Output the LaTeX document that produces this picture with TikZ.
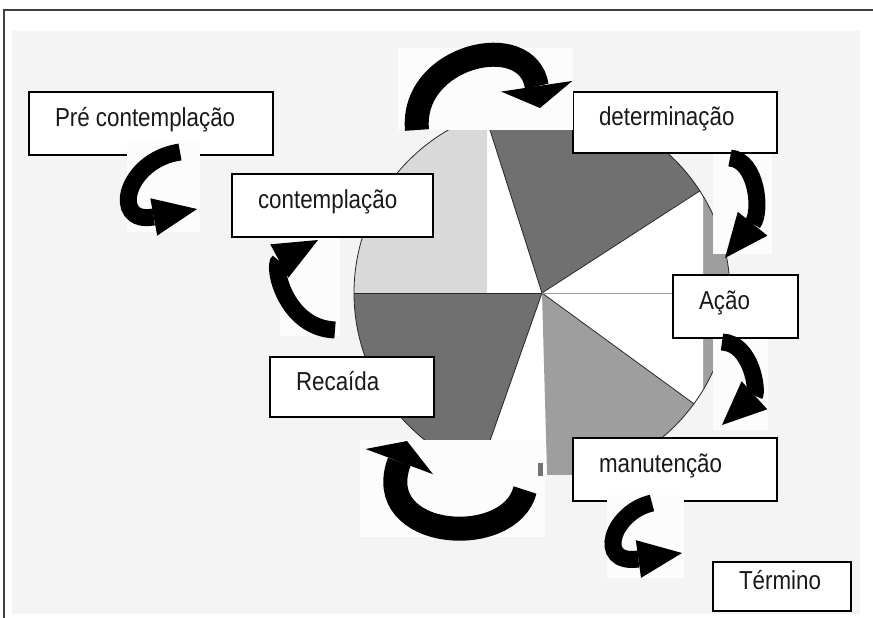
\documentclass[tikz,border=0pt]{standalone}
\usepackage{fontspec}
\setmainfont{Liberation Sans}[FakeStretch=0.86]
\usetikzlibrary{arrows.meta}
\definecolor{bggray}{gray}{0.955}
\definecolor{padwhite}{gray}{0.99}
\definecolor{wedgelight}{gray}{0.85}
\definecolor{wedgedark}{gray}{0.44}
\definecolor{wedgemid}{gray}{0.62}
\newcommand{\stagetext}[2]{\makebox[#1][l]{#2}}
\tikzset{
  stagebox/.style={draw=black, line width=1.1pt, fill=white,
    inner xsep=26pt, text height=18pt, text depth=12pt, text=black!90,
    font=\fontsize{26pt}{30pt}\selectfont},
  bigturn/.style={line width=24pt,
    -{Triangle[width=72pt,length=22pt,line width=0pt]}},
  smallturn/.style={line width=17pt,
    -{Triangle[width=38pt,length=44pt,line width=0pt]}},
  arrowpad/.style={fill=padwhite},
  rim/.style={line width=0.8pt, draw=black!85}
}

\begin{document}
\begin{tikzpicture}[x=1pt, y=-1pt]
  \useasboundingbox (0,0) rectangle (873,618);
  % ── background and frame ─────────────────────────────────────────
  \fill[bggray] (12,31) rectangle (860,614);
  \draw[line width=1.2pt, black!75] (4,618) -- (4,10) -- (873,10);

  % ── pie ──────────────────────────────────────────────────────────
  \coordinate (ctr) at (542,293);
  \begin{scope}
    \clip (0,130) rectangle (873,474);
    \fill[white] (ctr) circle[radius=188];
    \begin{scope}
      \clip (340,100) rectangle (487,293);
      \fill[wedgelight] (ctr) circle[radius=188];
    \end{scope}
    \foreach \a/\b/\c in {-107.7/-32.9/wedgedark, -32.9/36.1/wedgemid,
                          36.1/88.4/wedgemid, 109.4/180/wedgedark}
      \fill[\c] (ctr) -- ++(\a:188) arc[start angle=\a, end angle=\b, radius=188] -- cycle;
    % white face of the right slice
    \begin{scope}
      \clip (0,0) rectangle (703,618);
      \fill[white] (ctr) -- ++(-32.9:188) arc[start angle=-32.9, end angle=36.1, radius=188] -- cycle;
    \end{scope}
    \draw[rim] (ctr) circle[radius=188];
    \foreach \a in {-107.7, -32.9, 36.1, 109.4, 180}
      \draw[rim] (ctr) -- ++(\a:188);
    \draw[black!40, line width=0.6pt] (ctr) -- ++(0:188);
  \end{scope}

  % ── stages ───────────────────────────────────────────────────────
  \node[stagebox, minimum height=63pt] (pre)  at (151,123.5) {\stagetext{192pt}{Pré contemplação}};
  \node[stagebox, minimum height=63pt] (cont) at (332.5,205.5) {\stagetext{149pt}{contemplação}};
  \node[stagebox, minimum height=61pt] (det)  at (675,122.5) {\stagetext{152pt}{determinação}};
  \node[stagebox, minimum height=63pt] (acao) at (735.5,306.5) {\stagetext{73pt}{Ação}};
  \node[stagebox, minimum height=60pt] (rec)  at (352,387) {\stagetext{112pt}{Recaída}};
  \node[stagebox, minimum height=63pt] (man)  at (675,469.5) {\stagetext{152pt}{manutenção}};
  \node[stagebox, minimum height=49pt] (term) at (782,586.5) {\stagetext{86pt}{Término}};

  % ── turning arrows ───────────────────────────────────────────────
  \foreach \x/\y/\u/\v in {398/48/573/130, 127/140/200/232, 280/238/340/336,
                           713/154/772/254, 713/339/768/430, 607/495/684/578,
                           360/440/545/537}
    \fill[arrowpad] (\x,\y) rectangle (\u,\v);
  \fill[black!55] (538,463) rectangle (543,476);

  \coordinate (a1s) at (417,130); \coordinate (a1e) at (540,108);
  \coordinate (a2s) at (180,152); \coordinate (a2e) at (197,209);
  \coordinate (a3s) at (335,330); \coordinate (a3e) at (318,240);
  \coordinate (a4s) at (730,158); \coordinate (a4e) at (725,258);
  \coordinate (a5s) at (722,342); \coordinate (a5e) at (722,425);
  \coordinate (a6s) at (652,503); \coordinate (a6e) at (682,553);
  \coordinate (a7s) at (525,490); \coordinate (a7e) at (407,441);

  \draw[bigturn]   (a1s) .. controls (410,55) and (528,28) .. (a1e);
  \draw[smallturn] (a2s) .. controls (125,160) and (110,225) .. (a2e);
  \draw[smallturn] (a3s) .. controls (285,328) and (272,265) .. (a3e);
  \draw[smallturn] (a4s) .. controls (757,160) and (762,212) .. (a4e);
  \draw[smallturn] (a5s) .. controls (752,343) and (758,392) .. (a5e);
  \draw[smallturn] (a6s) .. controls (612,512) and (595,565) .. (a6e);
  \draw[bigturn]   (a7s) .. controls (510,550) and (370,540) .. (a7e);
\end{tikzpicture}
\end{document}
